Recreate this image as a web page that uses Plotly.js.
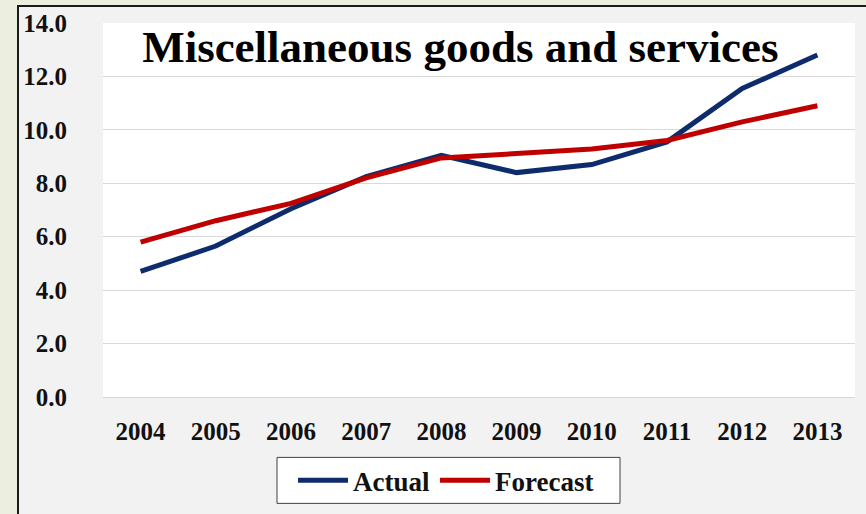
<!DOCTYPE html>
<html>
<head>
<meta charset="utf-8">
<script src="https://cdn.plot.ly/plotly-3.0.1.min.js"></script>
<style>
  html, body { margin: 0; padding: 0; background: #eceedf; width: 866px; height: 514px; overflow: hidden; }
  #frame { position: absolute; left: 17px; top: 5px; width: 849px; height: 509px; box-sizing: border-box;
           border-left: 2px solid #1a1a1a; border-top: 2px solid #1a1a1a; background: #f2f2f2; }
  #chart { width: 847px; height: 507px; }
</style>
</head>
<body>
<div id="frame"><div id="chart"></div></div>
<script>
const years = ['2004','2005','2006','2007','2008','2009','2010','2011','2012','2013'];
const actual = [4.7, 5.65, 7.05, 8.25, 9.05, 8.4, 8.7, 9.55, 11.55, 12.8];
const forecast = [5.8, 6.6, 7.25, 8.2, 8.95, 9.12, 9.28, 9.6, 10.3, 10.9];
const yTicks = [0, 2, 4, 6, 8, 10, 12, 14];
const chartTitle = 'Miscellaneous goods and services';

const FONT = '"Liberation Serif", "Times New Roman", serif';

const traces = [
  { x: years, y: actual, name: 'Actual', type: 'scatter', mode: 'lines',
    line: { color: '#0e2b6b', width: 5 } },
  { x: years, y: forecast, name: 'Forecast', type: 'scatter', mode: 'lines',
    line: { color: '#c00000', width: 5 } }
];

const layout = {
  width: 847, height: 507,
  margin: { l: 84, r: 11, t: 16, b: 116.5, pad: 0, autoexpand: false },
  paper_bgcolor: '#f2f2f2',
  plot_bgcolor: '#ffffff',
  font: { family: FONT, color: '#111111' },
  title: { text: chartTitle, x: 0.521, xanchor: 'center', xref: 'container',
           y: 0.923, yanchor: 'middle', yref: 'container',
           font: { family: FONT, size: 45, weight: 'bold', color: '#000000' } },
  xaxis: { type: 'category', categoryorder: 'array', categoryarray: years,
           range: [-0.5, years.length - 0.5], automargin: false,
           showgrid: false, showline: false, zeroline: false,
           ticks: 'outside', ticklen: 12, tickcolor: 'rgba(0,0,0,0)',
           tickfont: { family: FONT, size: 25, weight: 'bold', color: '#111111' },
           fixedrange: true },
  yaxis: { range: [0, 14], tickvals: yTicks, tickformat: '.1f', automargin: false,
           showgrid: true, gridcolor: '#d9d9d9', gridwidth: 1,
           zeroline: true, zerolinecolor: '#d9d9d9', zerolinewidth: 1,
           showline: false,
           ticks: 'outside', ticklen: 30, tickcolor: 'rgba(0,0,0,0)',
           tickfont: { family: FONT, size: 25, weight: 'bold', color: '#111111' },
           fixedrange: true },
  shapes: [
    { type: 'rect', xref: 'paper', yref: 'paper', layer: 'above',
      x0: 0.2314, x1: 0.6875, y0: -0.1615, y1: -0.2844,
      fillcolor: '#ffffff', line: { color: '#404040', width: 1 } }
  ],
  showlegend: true,
  legend: { orientation: 'h', x: 0.2527, xanchor: 'left', y: -0.158, yanchor: 'top',
            bgcolor: 'rgba(0,0,0,0)', borderwidth: 0,
            font: { family: FONT, size: 27, weight: 'bold', color: '#111111' },
            itemwidth: 50 }
};

Plotly.newPlot('chart', traces, layout, { displayModeBar: false, staticPlot: true });
</script>
</body>
</html>
